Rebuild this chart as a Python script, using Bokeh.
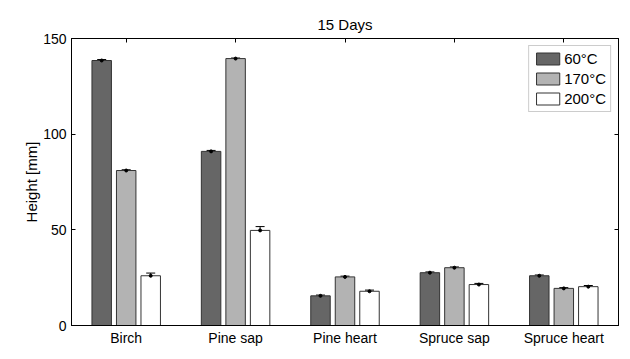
from bokeh.plotting import figure
from bokeh.models import ColumnDataSource, Whisker, TeeHead, LinearAxis, Legend, LegendItem, Range1d
from bokeh.embed import file_html
from bokeh.resources import INLINE

categories = ["Birch", "Pine sap", "Pine heart", "Spruce sap", "Spruce heart"]
series_names = ["60°C", "170°C", "200°C"]
h60 = [138.5, 91.0, 15.5, 27.6, 26.0]
h170 = [81.0, 139.5, 25.4, 30.2, 19.4]
h200 = [26.0, 49.7, 17.9, 21.4, 20.3]
e60 = [0.5, 0.5, 0.4, 0.4, 0.4]
e170 = [0.4, 0.3, 0.4, 0.4, 0.4]
e200 = [1.4, 2.0, 0.6, 0.6, 0.6]
y_ticks = [0, 50, 100, 150]

colors = ["#666666", "#b3b3b3", "#ffffff"]
offsets = [-0.224, 0.0, 0.224]
FONT = "Liberation Sans"

centers = [i + 0.5 for i in range(len(categories))]

p = figure(x_range=Range1d(0, len(categories)), y_range=Range1d(0, 150),
           frame_width=547, frame_height=287, min_border_left=71, min_border_top=38,
           min_border_right=3, min_border_bottom=2,
           output_backend="svg", toolbar_location=None, title="15 Days")
p.title.align = "center"
p.title.text_font = FONT
p.title.text_font_size = "15px"
p.title.text_font_style = "normal"
p.title.text_color = "black"
p.title.offset = 0
p.title.standoff = 12
p.title.vertical_align = "bottom"

series = [(h60, e60), (h170, e170), (h200, e200)]
items = []
for (vals, errs), col, off, name in zip(series, colors, offsets, series_names):
    src = ColumnDataSource(dict(x=[c + off for c in centers], top=vals,
                                lo=[v - e for v, e in zip(vals, errs)],
                                hi=[v + e for v, e in zip(vals, errs)]))
    r = p.vbar(x="x", top="top", width=0.178, source=src, fill_color=col,
               line_color="#333333", line_width=1)
    items.append(LegendItem(label=name, renderers=[r]))
    w = Whisker(base="x", upper="hi", lower="lo", source=src,
                line_color="black", line_width=1,
                upper_head=TeeHead(size=9, line_color="black", line_width=1),
                lower_head=TeeHead(size=9, line_color="black", line_width=1))
    p.add_layout(w)
    p.scatter(x="x", y="top", source=src, size=3, color="black")

legend = Legend(items=items, location="top_right")
legend.label_text_font = FONT
legend.label_text_font_size = "15px"
legend.label_text_color = "black"
legend.glyph_width = 29
legend.glyph_height = 15
legend.label_height = 15
legend.label_standoff = 2
legend.spacing = 3
legend.padding = 4
legend.margin = 7
legend.border_line_color = "#999999"
p.add_layout(legend)

p.xgrid.visible = False
p.ygrid.visible = False
p.outline_line_color = "black"
p.outline_line_width = 1

p.yaxis.ticker = y_ticks
p.yaxis.axis_label = "Height [mm]"
p.xaxis.ticker = centers
p.xaxis.major_label_overrides = {c: n for c, n in zip(centers, categories)}
for ax in [p.xaxis[0], p.yaxis[0]]:
    ax.major_label_text_font = FONT
    ax.major_label_text_font_size = "14px"
    ax.major_label_text_color = "black"
    ax.axis_line_color = "black"
    ax.major_tick_line_color = "black"
    ax.major_tick_in = 4
    ax.major_tick_out = 0
    ax.minor_tick_in = 0
    ax.minor_tick_out = 0
p.yaxis.axis_label_text_font = FONT
p.yaxis.axis_label_text_font_size = "15px"
p.yaxis.axis_label_text_font_style = "normal"
p.yaxis.axis_label_text_color = "black"
p.yaxis.axis_label_standoff = 0
p.yaxis.major_label_standoff = 5
p.xaxis.major_tick_in = 0
p.xaxis.major_label_standoff = 4

ax_r = LinearAxis(ticker=y_ticks, major_label_overrides={t: "" for t in y_ticks},
                  major_tick_in=4, major_tick_out=0, minor_tick_in=0, minor_tick_out=0,
                  major_label_standoff=0, major_tick_line_color="black", axis_line_color="black")
p.add_layout(ax_r, "right")
ax_t = LinearAxis(ticker=centers, major_label_overrides={t: "" for t in centers},
                  major_tick_in=4, major_tick_out=0, minor_tick_in=0, minor_tick_out=0,
                  major_label_standoff=0, major_tick_line_color="black", axis_line_color="black")
p.add_layout(ax_t, "above")

open("out.html", "w").write(file_html(p, INLINE))
